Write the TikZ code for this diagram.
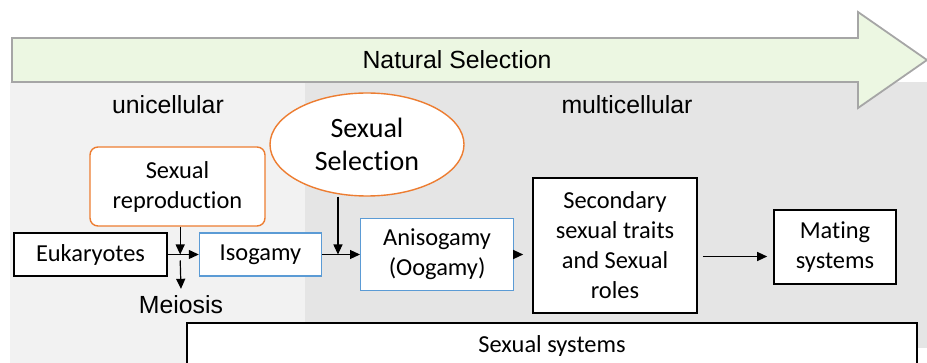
\documentclass[tikz,border=0pt]{standalone}
\usepackage{fontspec}
\setmainfont{Carlito}[Ligatures=NoCommon]
\newfontfamily\arialfont{Liberation Sans}
\usetikzlibrary{arrows.meta,positioning,shapes.geometric,calc}
\definecolor{selorange}{RGB}{237,125,49}
\definecolor{gameteblue}{RGB}{91,155,213}
\definecolor{natgreen}{RGB}{236,247,226}
\definecolor{unigray}{RGB}{242,242,242}
\definecolor{multigray}{RGB}{229,229,229}

\begin{document}
\begin{tikzpicture}[
                    x=0.5pt, y=-0.5pt,
                    stage/.style={
                        rectangle,
                        draw=black,
                        line width=0.8pt,
                        fill=white,
                        inner sep=0pt,
                        align=center,
                        font=\fontsize{12.2}{15}\selectfont
                    },
                    gamete/.style={stage, draw=gameteblue, line width=0.6pt},
                    driver/.style={stage, draw=selorange, line width=0.7pt, rounded corners=4pt},
                    era/.style={font=\arialfont\fontsize{12.4}{15}\selectfont},
                    flow/.style={->, line width=0.6pt},
                    >={Triangle[length=5pt,width=4.5pt]}
                ]
                \useasboundingbox (0,0) rectangle (927,363);
                \clip (0,0) rectangle (927,363);

                % background bands
                \fill[unigray] (10,82) rectangle (305,363);
                \fill[multigray] (305,82) rectangle (927,348);

                % natural selection arrow
                \path[draw=gray!70, fill=natgreen, line width=0.9pt]
                    (12,38) -- (858,38) -- (858,12) -- (927,60)
                    -- (858,108) -- (858,82) -- (12,82) -- cycle;
                \node (natsel) [era] at (457,60) {Natural Selection};

                \node (uni) [era] at (168,105) {unicellular};
                \node (multi) [era] at (627,105) {multicellular};

                \node (euk) [stage, minimum width=76.5pt, minimum height=21.5pt] at (90.5,254.5) {Eukaryotes};
                \node (iso) [gamete, minimum width=61pt, minimum height=21.5pt, right=15.5pt of euk] {Isogamy};
                \node (aniso) [gamete, minimum width=76.5pt, minimum height=36pt, right=19pt of iso] {Anisogamy\\(Oogamy)};
                \node (sec) [stage, minimum width=82pt, minimum height=67.5pt] at (615,245.5) {Secondary\\sexual traits\\and Sexual\\roles};
                \node (mating) [stage, minimum width=61pt, minimum height=37pt] at (835,247) {Mating\\systems};

                \node (sexrep) [driver, minimum width=87.5pt, minimum height=39.5pt] at (177.5,186.5) {Sexual\\reproduction};
                \node (sexsel) [ellipse, draw=selorange, fill=white, line width=0.7pt,
                    minimum width=97pt, minimum height=51.5pt, inner sep=0pt, align=center,
                    font=\fontsize{14}{16.5}\selectfont] at (367,144.5) {Sexual\\Selection};

                \node (meiosis) [era] at (181,305) {Meiosis};
                \node (systems) [stage, anchor=north, minimum width=365pt,
                    text height=15pt, text depth=14pt] at (552,322) {Sexual systems};

                \coordinate (jn) at ($(euk.east)!.4!(iso.west)$);
                \coordinate (jn2) at ($(iso.east)!.42!(aniso.west)$);

                \draw[flow] (euk.east) -- (iso.west);
                \draw[flow] (sexrep.south -| jn) -- (jn);
                \draw[flow] ([yshift=-3pt]jn) -- (meiosis.north);
                \draw[flow] (iso.east) -- (iso.east -| aniso.west);
                \draw[flow] (sexsel.south -| jn2) -- (jn2);
                \draw[flow, shorten >=4.5pt] (aniso.east) -- (aniso.east -| sec.west);
                \draw[flow, shorten <=2.5pt, shorten >=3pt]
                    ([yshift=-5.5pt]sec.east) -- ([yshift=-5.5pt]sec.east -| mating.west);
            \end{tikzpicture}
\end{document}
